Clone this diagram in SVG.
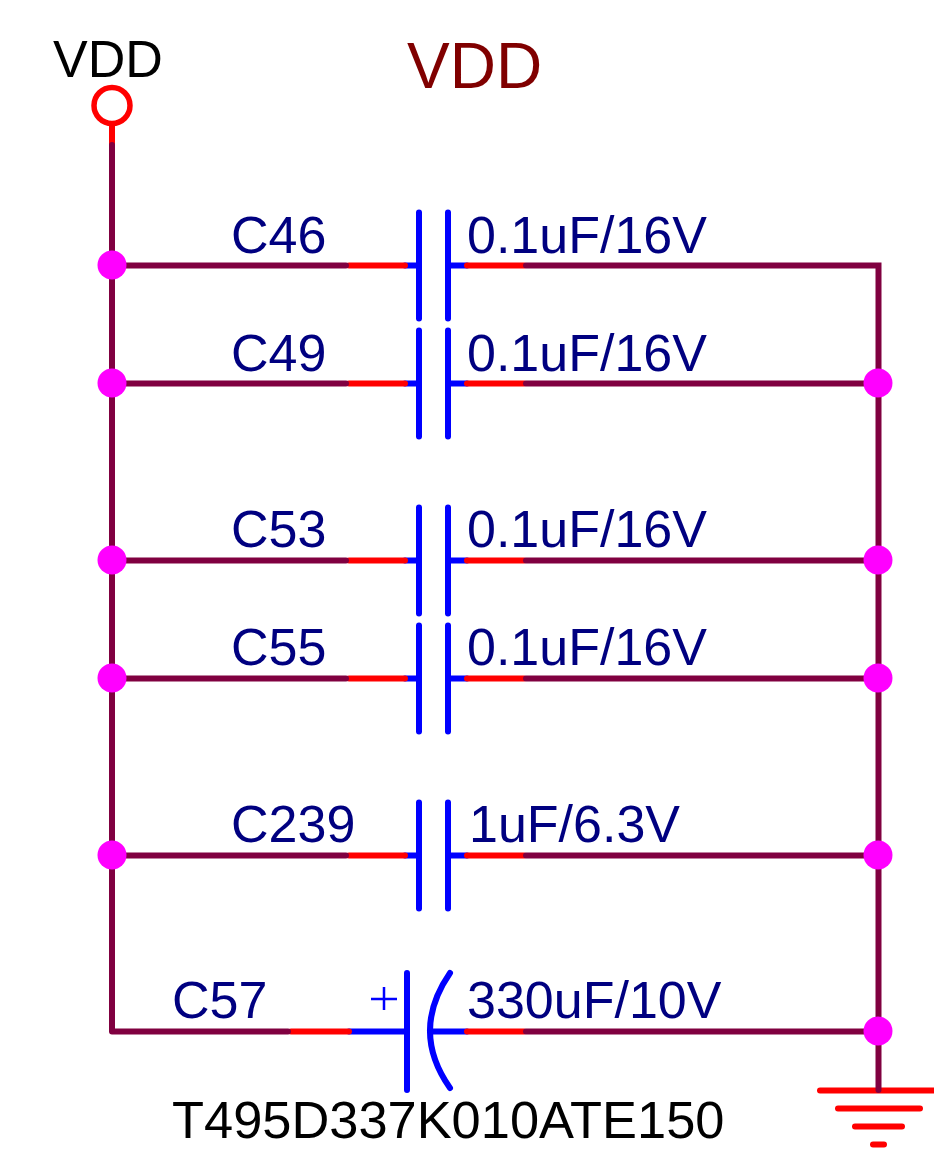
<svg xmlns="http://www.w3.org/2000/svg" width="934" height="1151" viewBox="0 0 934 1151">
<style>
text{font-family:"Liberation Sans",Arial,sans-serif}
.lbl{font-size:52px;fill:#000080}
.w{stroke:#800040;stroke-width:6;stroke-linecap:round;fill:none}
.r{stroke:#f00;stroke-width:6;stroke-linecap:round;fill:none}
.b{stroke:#00f;stroke-width:6;stroke-linecap:round;fill:none}
.j{fill:#f0f}
</style>
<defs>
<g id="cap">
<path class="b" d="M405 0H419M419-53V53M448-53V53M448 0H467"/>
<path class="r" d="M349 0H405M467 0H524"/>
</g>
</defs>
<g id="VDD-pin">
<path class="r" d="M112 124V145"/>
<circle cx="112" cy="105.500" r="18" fill="none" stroke="#f00" stroke-width="5.500"/>
<text x="53" y="77" font-size="52">VDD</text>
</g>
<text id="title" x="407" y="88" font-size="64" fill="#800000">VDD</text>
<g id="C46"><use href="#cap" y="265.500"/><text class="lbl" x="231" y="253">C46</text><text class="lbl" x="467" y="253">0.1uF/16V</text></g>
<g id="C49"><use href="#cap" y="383.500"/><text class="lbl" x="231" y="371">C49</text><text class="lbl" x="467" y="371">0.1uF/16V</text></g>
<g id="C53"><use href="#cap" y="560.500"/><text class="lbl" x="231" y="547">C53</text><text class="lbl" x="467" y="547">0.1uF/16V</text></g>
<g id="C55"><use href="#cap" y="678.500"/><text class="lbl" x="231" y="665">C55</text><text class="lbl" x="467" y="665">0.1uF/16V</text></g>
<g id="C239"><use href="#cap" y="855.500"/><text class="lbl" x="231" y="842">C239</text><text class="lbl" x="469" y="842">1uF/6.3V</text></g>
<g id="C57">
<path class="b" d="M349 1031.500H407M407 973V1090M450 973Q410 1031 450 1088M430 1031.500H467"/>
<path class="r" d="M291 1031.500H349M467 1031.500H524"/>
<path d="M371 999H397M384 987V1010" stroke="#00f" stroke-width="2.500" fill="none"/>
<text class="lbl" x="172" y="1018">C57</text>
<text class="lbl" x="467" y="1018">330uF/10V</text>
<text x="172" y="1138" font-size="52.400">T495D337K010ATE150</text>
</g>
<g id="GND">
<path class="r" d="M820 1090.500H934M838 1108.500H920M855 1126.500H902M873 1144.500H884"/>
</g>
<g id="connectors">
<path class="w" d="M112 145V1031.500M112 265.500H346M112 383.500H346M112 560.500H346M112 678.500H346M112 855.500H346M112 1031.500H288"/>
<path class="w" d="M526 265.500H878.500V1090M526 383.500H878M526 560.500H878M526 678.500H878M526 855.500H878M526 1031.500H878"/>
</g>
<g id="junctions">
<circle class="j" cx="112" cy="265" r="14.500"/><circle class="j" cx="112" cy="383" r="14.500"/><circle class="j" cx="112" cy="560" r="14.500"/><circle class="j" cx="112" cy="678" r="14.500"/><circle class="j" cx="112" cy="855" r="14.500"/>
<circle class="j" cx="878" cy="383" r="14.500"/><circle class="j" cx="878" cy="560" r="14.500"/><circle class="j" cx="878" cy="678" r="14.500"/><circle class="j" cx="878" cy="855" r="14.500"/><circle class="j" cx="878" cy="1031" r="14.500"/>
</g>
</svg>
